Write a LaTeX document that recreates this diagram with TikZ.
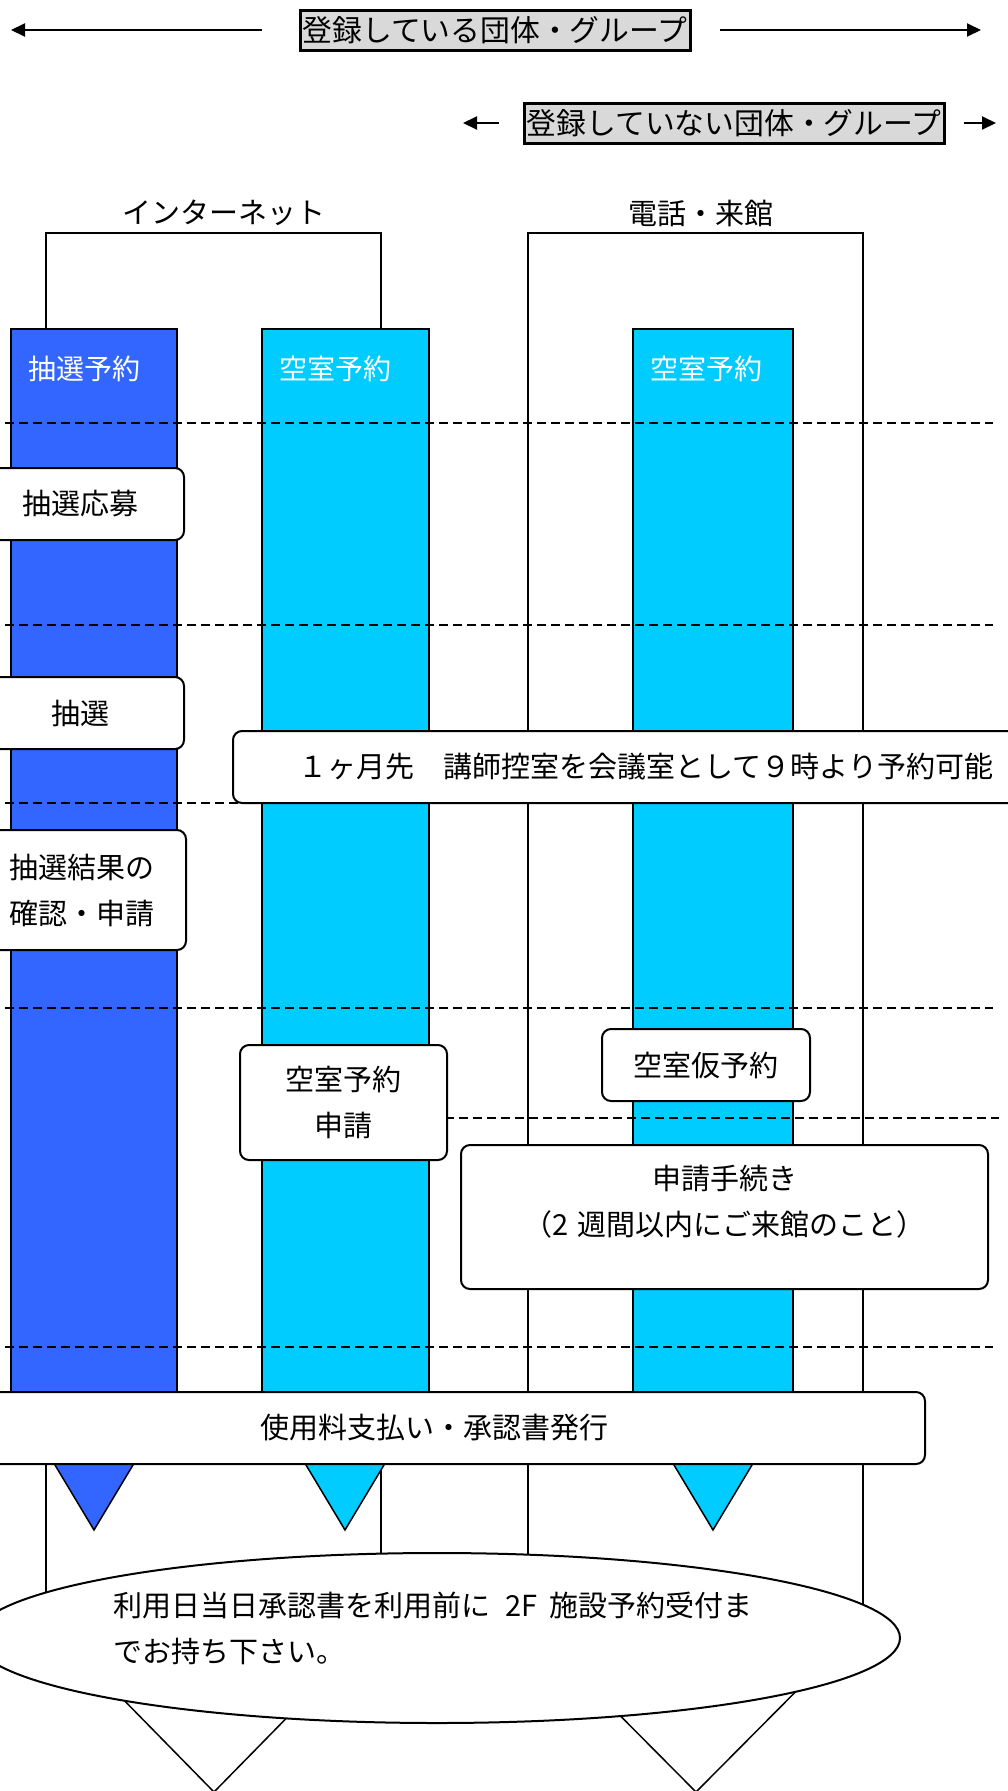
\documentclass[tikz,border=0pt]{standalone}
\usepackage{fontspec}
\setmainfont{Noto Sans CJK JP}
\usepackage{tikz}
\usetikzlibrary{shapes.geometric, arrows.meta, positioning, calc}
\definecolor{lotblue}{HTML}{3366FF}
\definecolor{roomcyan}{HTML}{00CCFF}
\definecolor{taggray}{HTML}{D9D9D9}
\newcommand{\jfont}{\fontsize{29}{46}\selectfont}
\tikzstyle{arrow} = [line width=2pt, -{Triangle[length=14pt,width=13pt]}]
\tikzstyle{tag} = [rectangle, draw=black, line width=3pt, fill=taggray, inner sep=0pt, minimum height=40pt, font=\fontsize{29.8}{34}\selectfont]
\tikzstyle{frame} = [draw=black, line width=1.5pt]
\tikzstyle{column} = [draw=black, line width=1.5pt]
\tikzstyle{coltext} = [anchor=west, text=white, inner sep=0pt, font=\fontsize{28}{34}\selectfont]
\tikzstyle{period} = [dash pattern=on 9pt off 5pt, line width=1.5pt]
\tikzstyle{stepbox} = [rectangle, rounded corners=9pt, draw=black, line width=2pt, fill=white, align=center, inner sep=0pt, font=\jfont]
\tikzstyle{pointer} = [draw=black, line width=1.5pt]

\begin{document}
\begin{tikzpicture}[x=1pt, y=-1pt]
    \useasboundingbox (0,0) rectangle (1008,1791);
    \clip (0,0) rectangle (1008,1791);

    % 対象
    \node (reg) [tag, minimum width=390pt] at (495,30) {登録している団体・グループ};
    \node (unreg) [tag, minimum width=420pt] at (734,123) {登録していない団体・グループ};
    \coordinate (regl) at (11,30);
    \coordinate (regr) at (981,30);
    \coordinate (unregl) at (463,123);
    \coordinate (unregr) at (996,123);
    \draw [arrow] ([xshift=-37pt]reg.west) -- (regl);
    \draw [arrow] ([xshift=28pt]reg.east) -- (regr);
    \draw [arrow] ([xshift=-24pt]unreg.west) -- (unregl);
    \draw [arrow] ([xshift=18pt]unreg.east) -- (unregr);

    % 申込方法
    \node (net) [font=\jfont] at (224,213) {インターネット};
    \node (tel) [font=\jfont] at (701,213) {電話・来館};
    \draw [frame] (46,233) rectangle (381,1640);
    \draw [frame] (528,233) rectangle (863,1640);

    % 予約の種類
    \draw [column, fill=lotblue] (11,329) rectangle (177,1420);
    \draw [column, fill=roomcyan] (262,329) rectangle (429,1420);
    \draw [column, fill=roomcyan] (633,329) rectangle (793,1420);
    \node (lotcol) [coltext] at (28,369) {抽選予約};
    \node (netcol) [coltext] at (279,369) {空室予約};
    \node (telcol) [coltext] at (650,369) {空室予約};

    % 区切り
    \foreach \y in {423,625,803,1008,1347}
        \draw [period] (5,\y) -- (993,\y);
    \draw [period] (445,1118) -- (999,1118);

    % 矢印
    \foreach \cx/\col in {94/lotblue, 345/roomcyan, 713/roomcyan}
        \draw [pointer, fill=\col] (\cx-66,1420) -- (\cx+66,1420) -- (\cx,1530) -- cycle;

    % 手順
    \node (apply) [stepbox, minimum width=208pt, minimum height=72pt] at (80,504) {抽選応募};
    \node (lottery) [stepbox, minimum width=208pt, minimum height=72pt] at (80,713) {抽選};
    \node (result) [stepbox, minimum width=208pt, minimum height=120pt] at (82,890) {抽選結果の\\確認・申請};
    \node (month) [stepbox, minimum width=826pt, minimum height=72pt] at (646,767) {１ヶ月先　講師控室を会議室として９時より予約可能};
    \node (roomreq) [stepbox, minimum width=207pt, minimum height=115pt] at (343.5,1102.5) {空室予約\\申請};
    \node (tentative) [stepbox, minimum width=208pt, minimum height=72pt] at (706,1065) {空室仮予約};
    \node (proc) [stepbox, minimum width=527pt, minimum height=144pt] at (724.5,1217) {};
    \node (proctext) [align=center, font=\jfont] at (724.5,1202) {申請手続き\\（2\hspace{0.3em}週間以内にご来館のこと）};
    \node (pay) [stepbox, minimum width=982pt, minimum height=72pt] at (434,1428) {使用料支払い・承認書発行};

    % 当日
    \draw [pointer, fill=white] (65,1640) -- (363,1640) -- (214,1792) -- cycle;
    \draw [pointer, fill=white] (545,1640) -- (847,1640) -- (696,1792) -- cycle;
    \node (visit) [ellipse, draw=black, line width=2pt, fill=white, minimum width=926pt, minimum height=170pt] at (437,1638) {};
    \node (visittext) [align=left, font=\jfont] at (433,1628) {利用日当日承認書を利用前に\hspace{0.5em}2F\hspace{0.4em}施設予約受付ま\\でお持ち下さい。};
\end{tikzpicture}
\end{document}
